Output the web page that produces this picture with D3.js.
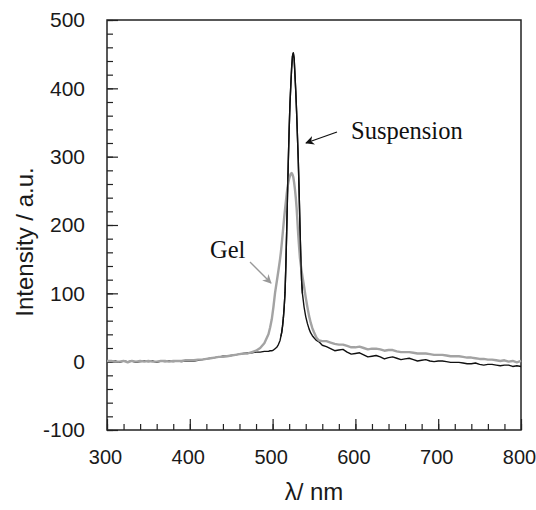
<!DOCTYPE html>
<html>
<head>
<meta charset="utf-8">
<script src="https://cdn.jsdelivr.net/npm/d3@7"></script>
<style>
  body { margin: 0; background: #fff; }
  svg { display: block; }
  .tick text { font-family: "Liberation Sans", Arial, sans-serif; }
</style>
</head>
<body>
<svg id="chart" width="536" height="510"></svg>
<script>
// wavelength grid (nm) shared by both spectra
var wavelength = [
  300,305,310,315,320,325,330,335,340,345,350,355,360,365,370,375,380,385,390,395,
  400,405,410,415,420,425,430,435,440,445,450,455,460,465,470,475,480,485,490,495,
  497,499,501,503,505,507,509,
  510,511,512,513,514,515,516,517,518,519,520,521,522,523,524,525,526,527,528,529,
  530,531,532,533,534,535,536,
  538,540,542,544,546,548,550,553,556,560,
  565,570,575,580,585,590,595,600,605,610,615,620,625,630,635,640,645,650,655,660,
  665,670,675,680,685,690,695,700,705,710,715,720,725,730,735,740,745,750,755,760,
  765,770,775,780,785,790,795,800
];

// black curve
var suspension = [
  2,0,1,-1,1,0,1,-1,0,1,0,1,-1,1,0,1,0,1,0,1,
  1,1,2,3,4,5,6,7,8,8,9,10,11,12,13,13,14,14,15,15,
  16,16,17,19,21,25,31,
  37,43,52,64,80,101,140,190,245,295,340,378,405,430,447,452,444,420,395,365,
  330,295,250,200,155,120,100,
  80,66,56,48,42,38,35,31,29,24,
  22,19,16,17,18,14,11,12,13,10,7,8,9,7,4,6,7,5,3,4,
  5,3,1,2,3,1,0,1,1,0,-1,-1,-1,-2,-3,-3,-2,-4,-5,-4,
  -4,-5,-6,-5,-5,-7,-6,-7
];

// grey curve
var gel = [
  1,1,0,0,1,-1,1,0,1,0,1,0,0,1,1,0,1,1,1,2,
  2,2,3,3,4,5,6,7,7,8,9,10,11,12,12,14,16,20,27,40,
  50,62,80,101,117,133,150,
  160,172,185,198,211,223,234,245,255,262,268,272,275,276,274,270,262,252,240,225,
  205,185,168,152,142,133,125,
  110,94,80,67,57,49,43,35,31,30,
  30,28,26,25,25,23,21,21,22,20,18,19,19,18,16,17,17,15,14,14,
  14,13,12,12,12,11,10,10,10,9,8,8,8,7,6,6,5,4,4,3,
  3,2,1,2,0,1,-1,1
];

var xTicks = [300, 400, 500, 600, 700, 800];
var yTicks = [-100, 0, 100, 200, 300, 400, 500];

var margin = {top: 20, right: 15, bottom: 80, left: 107};
var width = 536 - margin.left - margin.right,
    height = 510 - margin.top - margin.bottom;

var svg = d3.select("#chart");
var g = svg.append("g").attr("transform", "translate(" + margin.left + "," + margin.top + ")");

var x = d3.scaleLinear().domain([300, 800]).range([0, width]);
var y = d3.scaleLinear().domain([-100, 500]).range([height, 0]);

// minor ticks first, then major ones with labels
g.append("g")
  .attr("transform", "translate(0," + height + ")")
  .call(d3.axisBottom(x).tickValues(d3.range(300, 801, 20)).tickSize(-6).tickFormat(""))
  .call(function(a) { a.select(".domain").remove(); });
g.append("g")
  .call(d3.axisLeft(y).tickValues(d3.range(-100, 501, 20)).tickSize(-6).tickFormat(""))
  .call(function(a) { a.select(".domain").remove(); });

var xAxis = g.append("g")
  .attr("transform", "translate(0," + height + ")")
  .call(d3.axisBottom(x).tickValues(xTicks).tickSize(-11).tickPadding(20).tickFormat(function(d) { return String(d); }));
xAxis.select(".domain").remove();
xAxis.selectAll("text").attr("font-size", 20).attr("dx", -2).attr("fill", "#1a1a1a");

var yAxis = g.append("g")
  .call(d3.axisLeft(y).tickValues(yTicks).tickSize(-11).tickPadding(22).tickFormat(function(d) { return String(d); }));
yAxis.select(".domain").remove();
yAxis.selectAll("text").attr("font-size", 21).attr("fill", "#1a1a1a");

g.selectAll(".tick line").attr("stroke", "#222").attr("stroke-width", 1.2);

// frame
g.append("rect")
  .attr("width", width).attr("height", height)
  .attr("fill", "none").attr("stroke", "#222").attr("stroke-width", 1.5);

var line = d3.line()
  .x(function(d, i) { return x(wavelength[i]); })
  .y(function(d) { return y(d); });

g.append("path").datum(suspension)
  .attr("d", line).attr("fill", "none")
  .attr("stroke", "#111").attr("stroke-width", 1.4).attr("stroke-linejoin", "round");

g.append("path").datum(gel)
  .attr("d", line).attr("fill", "none")
  .attr("stroke", "#a3a3a3").attr("stroke-width", 2.4).attr("stroke-linejoin", "round");

// redraw the black peak over the grey one
g.append("path").datum(suspension.slice(47, 74))
  .attr("d", d3.line().x(function(d, i) { return x(wavelength[i + 47]); }).y(function(d) { return y(d); }))
  .attr("fill", "none").attr("stroke", "#111").attr("stroke-width", 1.4);

// arrows
var defs = svg.append("defs");
[["blk", "#111"], ["gry", "#999"]].forEach(function(m) {
  defs.append("marker").attr("id", "arr-" + m[0])
    .attr("viewBox", "0 0 10 10").attr("refX", 9).attr("refY", 5)
    .attr("markerWidth", 9).attr("markerHeight", 9).attr("markerUnits", "userSpaceOnUse")
    .attr("orient", "auto")
    .append("path").attr("d", "M0,0 L10,5 L0,10 L3,5 z").attr("fill", m[1]);
});

svg.append("line")
  .attr("x1", 337).attr("y1", 132).attr("x2", 306).attr("y2", 143)
  .attr("stroke", "#111").attr("stroke-width", 1.3).attr("marker-end", "url(#arr-blk)");
svg.append("text")
  .attr("x", 351).attr("y", 139)
  .attr("font-family", "'Liberation Serif', 'Times New Roman', serif")
  .attr("font-size", 24.5).attr("fill", "#111").text("Suspension");

svg.append("line")
  .attr("x1", 250).attr("y1", 262).attr("x2", 271).attr("y2", 283)
  .attr("stroke", "#999").attr("stroke-width", 1.3).attr("marker-end", "url(#arr-gry)");
svg.append("text")
  .attr("x", 210).attr("y", 258)
  .attr("font-family", "'Liberation Serif', 'Times New Roman', serif")
  .attr("font-size", 24.5).attr("fill", "#111").text("Gel");

// axis titles
svg.append("text")
  .attr("x", 314).attr("y", 500).attr("text-anchor", "middle")
  .attr("font-family", "'Liberation Sans', Arial, sans-serif")
  .attr("font-size", 24).attr("fill", "#1a1a1a").text("λ/ nm");

svg.append("text")
  .attr("transform", "translate(33,242) rotate(-90)").attr("text-anchor", "middle")
  .attr("font-family", "'Liberation Sans', Arial, sans-serif")
  .attr("font-size", 24).attr("fill", "#1a1a1a").text("Intensity / a.u.");
</script>
</body>
</html>
